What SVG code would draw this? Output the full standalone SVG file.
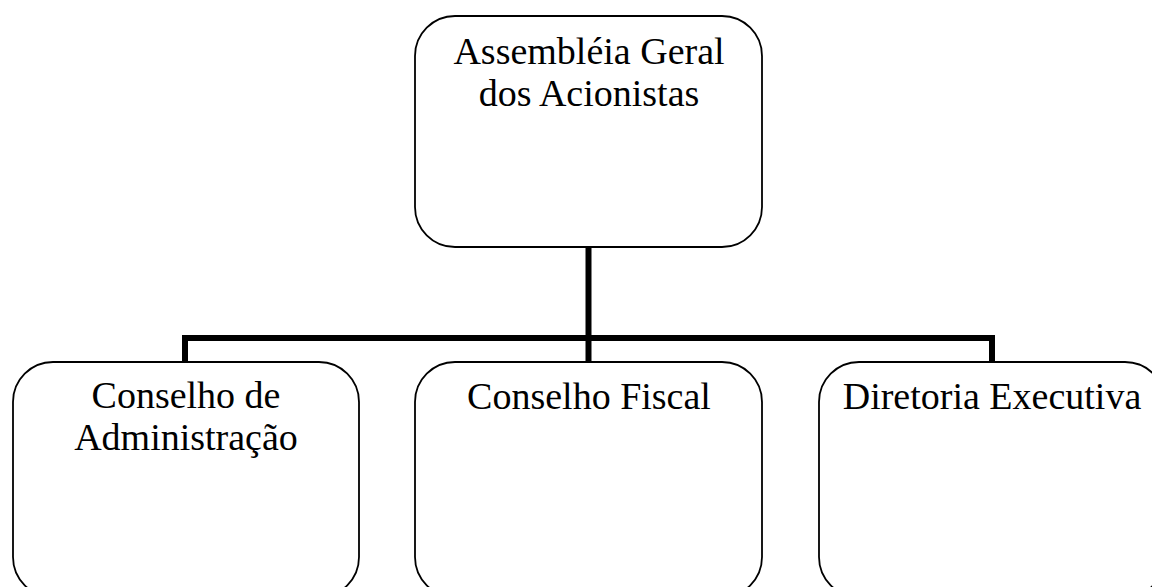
<svg xmlns="http://www.w3.org/2000/svg" width="1152" height="587" viewBox="0 0 1152 587">
<style>
.box{fill:#fff;stroke:#000;stroke-width:1.8}
.t{font-family:"Liberation Serif","Times New Roman",serif;font-size:38px;fill:#000;text-anchor:middle}
.c{fill:none;stroke:#000;stroke-width:6;stroke-linejoin:miter}
</style>
<rect width="1152" height="587" fill="#fff"/>
<g id="connectors">
<path class="c" d="M588.5 247 V338"/>
<path class="c" d="M185 362 V338 H992 V362"/>
<path class="c" d="M588.5 338 V362"/>
</g>
<g id="assembleia">
<rect class="box" x="415" y="16" width="347" height="231" rx="40" ry="40"/>
<text class="t" x="589" y="64">Assembléia Geral</text>
<text class="t" x="589" y="106">dos Acionistas</text>
</g>
<g id="conselho-adm">
<rect class="box" x="13" y="362" width="346" height="235" rx="40" ry="40"/>
<text class="t" x="186" y="408">Conselho de</text>
<text class="t" x="186" y="450">Administração</text>
</g>
<g id="conselho-fiscal">
<rect class="box" x="415" y="362" width="347" height="235" rx="40" ry="40"/>
<text class="t" x="589" y="409">Conselho Fiscal</text>
</g>
<g id="diretoria">
<rect class="box" x="819" y="362" width="346" height="235" rx="40" ry="40"/>
<text class="t" x="992" y="409">Diretoria Executiva</text>
</g>
</svg>
